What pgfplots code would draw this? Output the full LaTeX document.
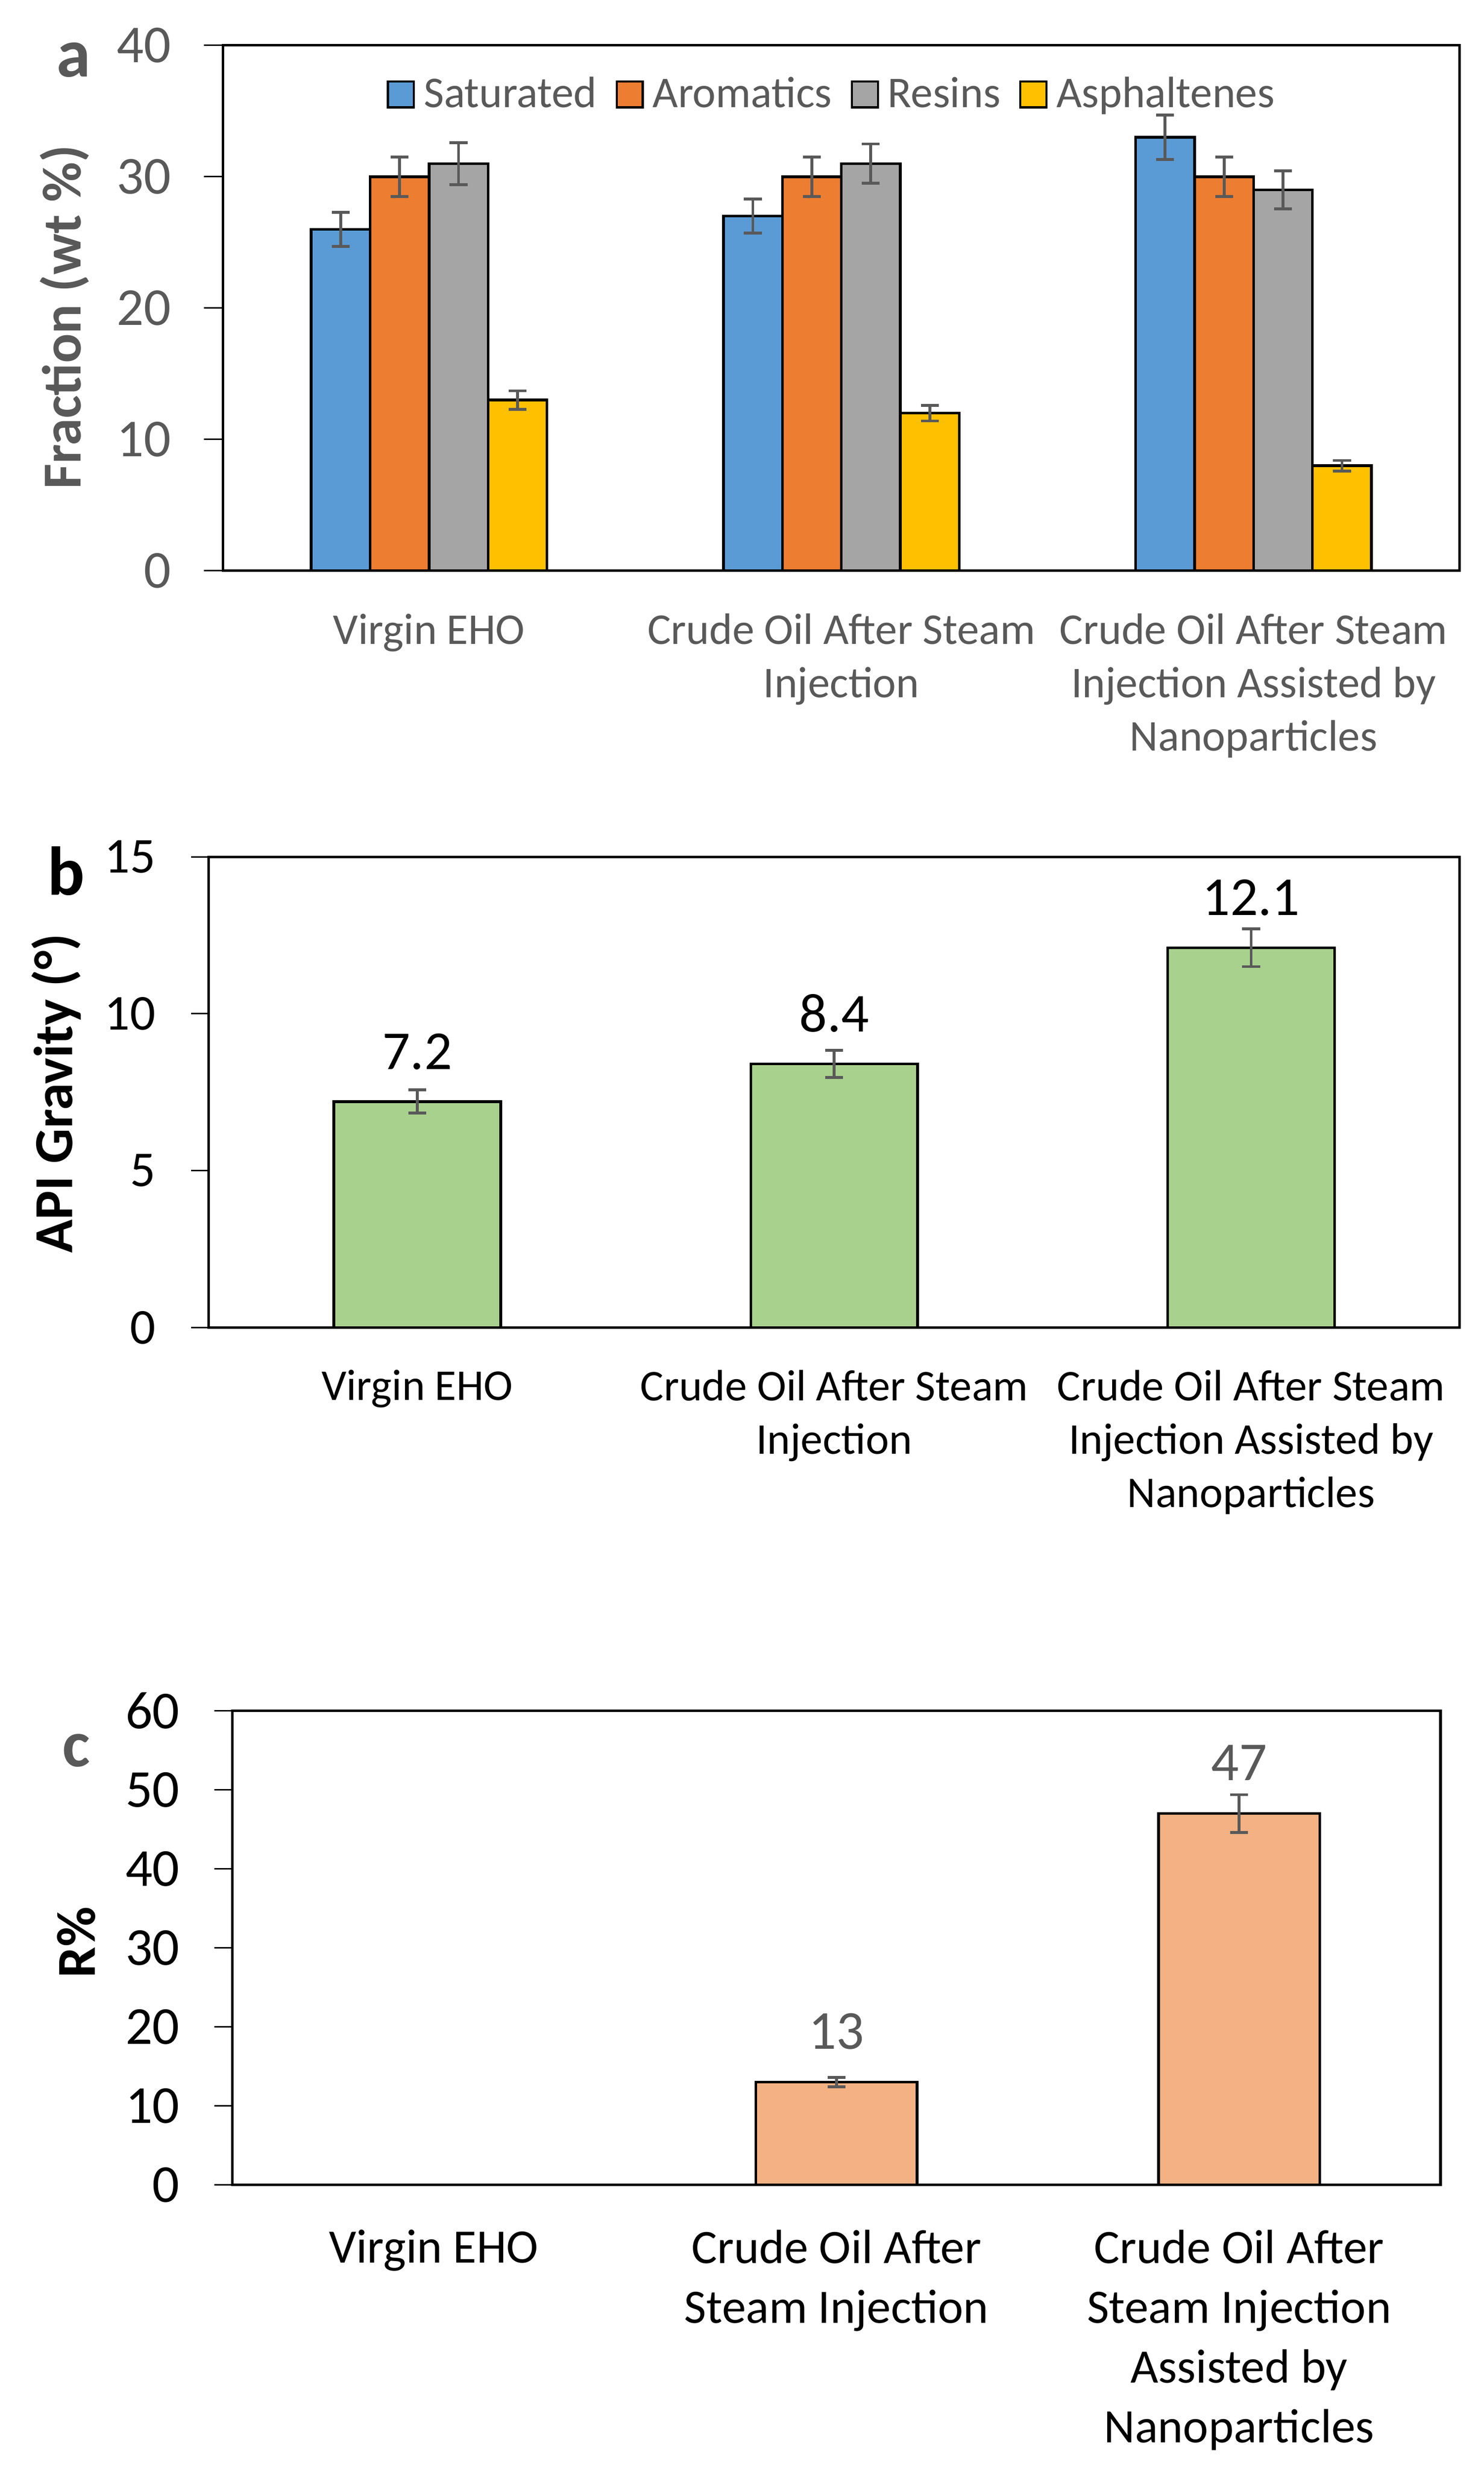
\documentclass[border=0pt]{standalone}
\usepackage{fontspec}
\setmainfont{Carlito}
\usepackage{pgfplots}
\pgfplotsset{compat=1.18}

\definecolor{cSat}{HTML}{5B9BD5}
\definecolor{cAro}{HTML}{ED7D31}
\definecolor{cRes}{HTML}{A5A5A5}
\definecolor{cAsp}{HTML}{FFC000}
\definecolor{cApi}{HTML}{A9D18E}
\definecolor{cRec}{HTML}{F4B183}
\definecolor{dgrey}{HTML}{595959}

\newcommand{\fs}[2]{\fontsize{#1}{#2}\selectfont}

\pgfplotsset{
  panel/.style={
    scale only axis, anchor=south west,
    ybar, ymin=0, xmin=-0.5, xmax=2.5,
    xtick={0,1,2}, xtick style={draw=none},
    ytick align=outside, ytick pos=left,
    major tick length=6pt,
    ytick style={black, line width=0.45pt},
    axis line style={black, line width=0.8pt},
    /pgf/number format/assume math mode=true,
    yticklabel style={inner sep=0pt},
    xticklabel style={align=center, anchor=north, inner sep=0pt},
    every axis y label/.style={rotate=90, anchor=base},
    nodes near coords style={anchor=base, inner sep=0pt, yshift=10.3pt, font=\fs{17.5}{21}},
  },
  bars/.style={draw=black, line width=0.85pt,
    error bars/y dir=both, error bars/y explicit,
    error bars/error bar style={dgrey, line width=0.9pt},
    error bars/error mark options={rotate=90, dgrey, mark size=2.85pt, line width=0.9pt}},
  sq/.style={legend image code/.code={\draw[##1, draw=black, line width=0.7pt] (0pt,0pt) rectangle (8.3pt,8.3pt);}},
}

\begin{document}
\begin{tikzpicture}
\path[use as bounding box] (0pt,0pt) rectangle (472.5pt,786.26pt);

% a: SARA fractions
\begin{axis}[panel, at={(71pt,604.5pt)}, width=393.8pt, height=167.3pt,
  ymax=40, ytick={0,10,20,30,40},
  bar width=0.143, ybar=0pt,
  yticklabel shift=10.4pt,
  yticklabel style={font=\fs{17}{20}, text=dgrey},
  xticklabel style={font=\fs{14}{17}, text=dgrey, yshift=-7.5pt},
  xticklabels={{Virgin EHO},{Crude Oil After Steam\\Injection},{Crude Oil After Steam\\Injection Assisted by\\Nanoparticles}},
  ylabel={Fraction (wt \%)},
  ylabel style={at={(axis description cs:-0.1149,0.4827)}, font=\fs{17.5}{21}\bfseries, text=dgrey},
  legend columns=4,
  legend style={draw=none, fill=none, inner sep=0pt, at={(axis description cs:0.4914,0.9064)}, anchor=center,
    font=\fs{14}{17}, text=dgrey, cells={anchor=base west}, nodes={inner sep=0pt},
    /tikz/every odd column/.append style={column sep=2.8pt},
    /tikz/every even column/.append style={column sep=6pt}},
]
\addplot[bars, fill=cSat, sq] coordinates {(0,26) +- (0,1.3) (1,27) +- (0,1.3) (2,33) +- (0,1.7)};
\addplot[bars, fill=cAro, sq] coordinates {(0,30) +- (0,1.5) (1,30) +- (0,1.5) (2,30) +- (0,1.5)};
\addplot[bars, fill=cRes, sq] coordinates {(0,31) +- (0,1.6) (1,31) +- (0,1.5) (2,29) +- (0,1.45)};
\addplot[bars, fill=cAsp, sq] coordinates {(0,13) +- (0,0.7) (1,12) +- (0,0.6) (2,8) +- (0,0.4)};
\legend{Saturated, Aromatics, Resins, Asphaltenes}
\end{axis}

% b: API gravity
\begin{axis}[panel, at={(66.5pt,363.5pt)}, width=398.25pt, height=149.9pt,
  ymax=15, ytick={0,5,10,15},
  bar width=0.4, major tick length=5.6pt,
  yticklabel shift=11.2pt,
  yticklabel style={font=\fs{16}{19}},
  xticklabel style={font=\fs{14}{17}, yshift=-7.7pt},
  xticklabels={{Virgin EHO},{Crude Oil After Steam\\Injection},{Crude Oil After Steam\\Injection Assisted by\\Nanoparticles}},
  ylabel={API Gravity (°)},
  ylabel style={at={(axis description cs:-0.1092,0.497)}, font=\fs{17.5}{21}\bfseries},
]
\addplot[bars, fill=cApi, nodes near coords] coordinates {(0,7.2) +- (0,0.37) (1,8.4) +- (0,0.43) (2,12.1) +- (0,0.6)};
\end{axis}

% c: recovery
\begin{axis}[panel, at={(74pt,90.5pt)}, width=384.7pt, height=150.9pt,
  ymax=60, ytick={0,10,20,30,40,50,60},
  bar width=0.4, major tick length=5.8pt,
  yticklabel shift=10.8pt,
  yticklabel style={font=\fs{17}{20}},
  xticklabel style={font=\fs{15.3}{19}, yshift=-8.4pt},
  xticklabels={{Virgin EHO},{Crude Oil After\\Steam Injection},{Crude Oil After\\Steam Injection\\Assisted by\\Nanoparticles}},
  ylabel={R\%},
  ylabel style={at={(axis description cs:-0.1137,0.512)}, font=\fs{17.5}{21}\bfseries},
  nodes near coords style={text=dgrey, yshift=0.3pt},
]
\addplot[bars, fill=cRec, nodes near coords] coordinates {(1,13) +- (0,0.6) (2,47) +- (0,2.4)};
\end{axis}

\node[anchor=base, font=\fs{22}{26}\bfseries, text=dgrey] at (23.5pt,761.75pt) {a};
\node[anchor=base, font=\fs{22}{26}\bfseries] at (21pt,501.25pt) {b};
\node[anchor=base, font=\fs{21}{25}\bfseries, text=dgrey] at (24.25pt,223.75pt) {c};
\end{tikzpicture}
\end{document}
